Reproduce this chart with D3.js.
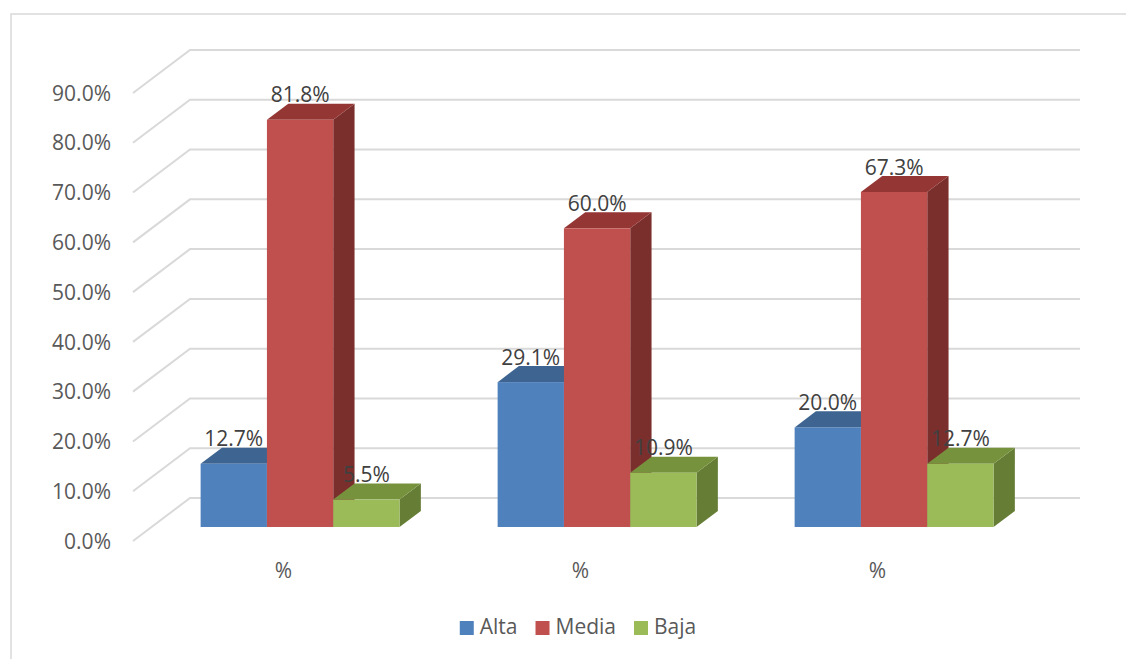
<!DOCTYPE html>
<html><head><meta charset="utf-8">
<script src="https://cdn.jsdelivr.net/npm/d3@7"></script>
<style>html,body{margin:0;padding:0;background:#fff;}svg{display:block;font-family:"Open Sans",sans-serif;}</style>
</head><body>
<svg id="chart" width="1126" height="659"></svg>
<script>
const categories = ["%", "%", "%"];
const seriesNames = ["Alta", "Media", "Baja"];
const alta = [12.7, 29.1, 20.0];
const media = [81.8, 60.0, 67.3];
const baja = [5.5, 10.9, 12.7];
const yTicks = [0, 10, 20, 30, 40, 50, 60, 70, 80, 90];
const frontColors = ["#4F81BD", "#C0504D", "#9BBB59"];
const topColors = ["#3E6591", "#943634", "#77923D"];
const sideColors = ["#385D8A", "#7B2F2D", "#657D35"];

const series = [alta, media, baja];
const svg = d3.select("#chart");
const FS = 21;

// outer border
svg.append("rect").attr("x", 11).attr("y", 14).attr("width", 1140).attr("height", 700)
  .attr("fill", "none").attr("stroke", "#D9D9D9").attr("stroke-width", 1.5);

// geometry: front plane and depth
const depthX = 57, depthY = -43;
const y = d3.scaleLinear().domain([0, 90]).range([541, 93]);
const x = d3.scaleBand().domain(d3.range(categories.length)).range([133, 1024]);
const barT0 = 0.326, barT1 = 0.70;
const barW = 66.3;

const grid = svg.append("g");
yTicks.forEach(v => {
  const yf = y(v);
  grid.append("path")
    .attr("d", `M${133},${yf} L${133 + depthX},${yf + depthY} L${1080},${yf + depthY}`)
    .attr("fill", "none").attr("stroke", "#D9D9D9").attr("stroke-width", 2);
});

// y axis labels
const yAxis = svg.append("g");
yTicks.forEach(v => {
  yAxis.append("text").attr("x", 111).attr("y", y(v) + 2)
    .attr("text-anchor", "end").attr("dominant-baseline", "middle")
    .attr("font-size", FS).attr("fill", "#595959").text(v.toFixed(1) + "%");
});

// bars
const bars = svg.append("g");
const labels = svg.append("g");
const ox0 = barT0 * depthX, oy0 = barT0 * depthY;
const dX = (barT1 - barT0) * depthX, dY = (barT1 - barT0) * depthY;
categories.forEach((c, i) => {
  const groupStart = x(i) + (x.bandwidth() - barW * 3) / 2 + ox0;
  series.forEach((s, k) => {
    const v = s[i];
    const x0 = groupStart + k * barW, x1 = x0 + barW;
    const yb = y(0) + oy0, yt = y(v) + oy0;
    const g = bars.append("g");
    g.append("path").attr("d", `M${x1},${yt} L${x1 + dX},${yt + dY} L${x1 + dX},${yb + dY} L${x1},${yb} Z`)
      .attr("fill", sideColors[k]);
    g.append("path").attr("d", `M${x0},${yt} L${x0 + dX},${yt + dY} L${x1 + dX},${yt + dY} L${x1},${yt} Z`)
      .attr("fill", topColors[k]);
    g.append("rect").attr("x", x0).attr("y", yt).attr("width", barW).attr("height", yb - yt)
      .attr("fill", frontColors[k]);
    labels.append("text").attr("x", (x0 + x1) / 2).attr("y", yt - 23)
      .attr("text-anchor", "middle").attr("dominant-baseline", "middle")
      .attr("font-size", FS).attr("fill", "#404040").text(v.toFixed(1) + "%");
  });
  svg.append("text").attr("x", x(i) + x.bandwidth() / 2 + 2).attr("y", 572)
    .attr("text-anchor", "middle").attr("dominant-baseline", "middle")
    .attr("font-size", FS).attr("fill", "#595959").text(c);
});

// legend
const legend = svg.append("g");
let lx = 0;
const items = [];
seriesNames.forEach((n, k) => {
  const g = legend.append("g");
  g.append("rect").attr("x", 0).attr("y", -7).attr("width", 14).attr("height", 14).attr("fill", frontColors[k]);
  const t = g.append("text").attr("x", 20).attr("y", 0).attr("dominant-baseline", "middle")
    .attr("font-size", FS).attr("fill", "#595959").text(n);
  const w = 20 + t.node().getComputedTextLength();
  items.push({g, w});
});
const gap = 18;
const total = d3.sum(items, d => d.w) + gap * (items.length - 1);
lx = 578 - total / 2;
items.forEach(d => { d.g.attr("transform", `translate(${lx},628)`); lx += d.w + gap; });
</script>
</body></html>
